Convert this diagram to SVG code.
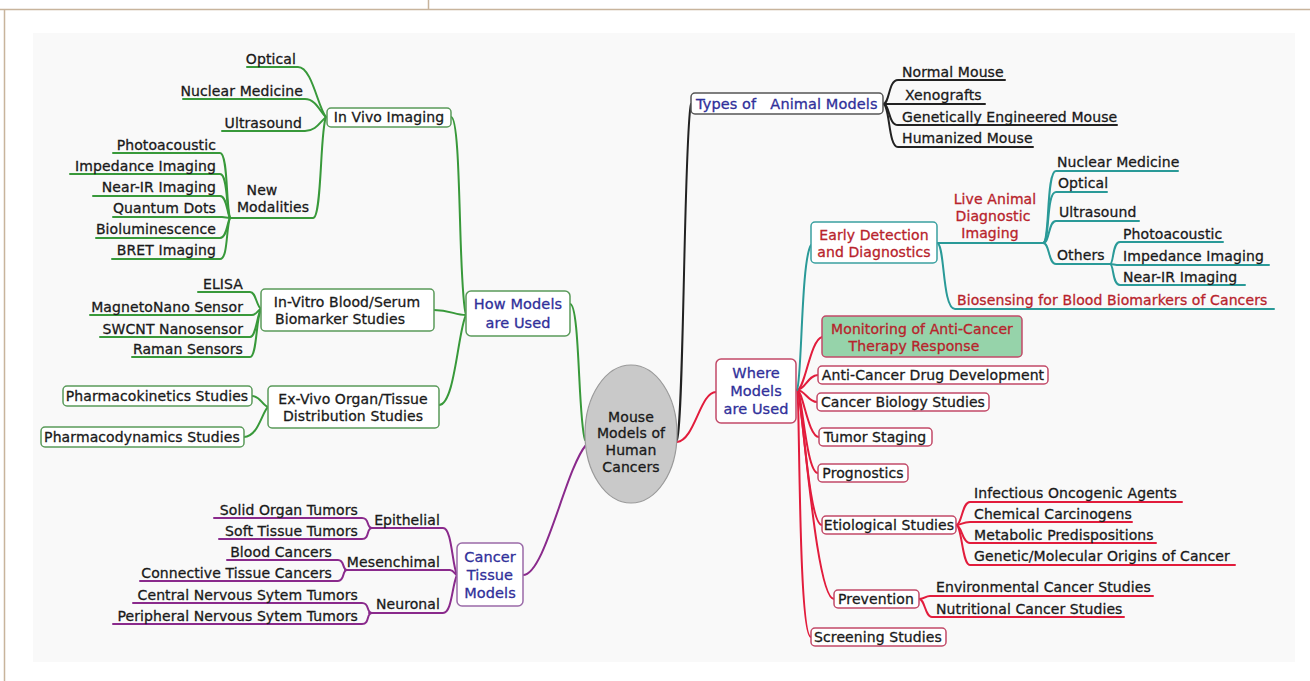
<svg xmlns="http://www.w3.org/2000/svg" width="1310" height="681" viewBox="0 0 1310 681">
<defs>
<style>
text{font-family:"DejaVu Sans","Liberation Sans",sans-serif;font-size:14px;letter-spacing:0.1px;fill:#1a1a1a;stroke:#1a1a1a;stroke-width:0.3px}
.e{text-anchor:end}
.m{text-anchor:middle}
.blue{fill:#30309a;stroke:#30309a;font-size:14.5px}
.red{fill:#b8232c;stroke:#b8232c}
.c{fill:none;stroke-width:2;stroke-linecap:round;stroke-linejoin:round}
.g{stroke:#38993a}
.p{stroke:#8a2a8c}
.k{stroke:#222}
.r{stroke:#e21c3c}
.t{stroke:#2a9a98}
.bx{fill:#fff;stroke-width:1.5}
.bg{stroke:#5a9a5a}
.bp{stroke:#9a6aa8}
.bk{stroke:#555}
.br{stroke:#c24a68}
.bt{stroke:#3aa0a0}
</style>
</defs>
<rect width="1310" height="681" fill="#fff"/>
<path d="M0,9.5H1310M4.5,9.5V681M428.5,0V9.5" stroke="#c8b49c" stroke-width="1.5" fill="none"/>
<rect x="33" y="33" width="1262" height="629" fill="#f9f9f9"/>

<g id="connectors">
<path class="c g" d="M247,67H298C312,67 318,108 326,117"/>
<path class="c g" d="M183,99H305C316,99 320,112 326,117"/>
<path class="c g" d="M222,131H305C316,131 320,122 326,117"/>
<path class="c g" d="M230,218H313C322,218 320,130 326,117"/>
<path class="c g" d="M113,153H220C228,153 226,205 230,218"/>
<path class="c g" d="M70,174H220C228,174 226,210 230,218"/>
<path class="c g" d="M93,196H220C227,196 227,214 230,218"/>
<path class="c g" d="M113,217H222L230,218"/>
<path class="c g" d="M96,238H220C227,238 227,222 230,218"/>
<path class="c g" d="M112,259H220C228,259 226,228 230,218"/>
<path class="c g" d="M451,117C462,117 458,290 466,315"/>
<path class="c g" d="M198,292H250C256,292 256,305 261,309"/>
<path class="c g" d="M90,315H252C256,315 257,311 261,309"/>
<path class="c g" d="M100,337H250C256,337 257,315 261,309"/>
<path class="c g" d="M132,357H250C257,357 256,318 261,309"/>
<path class="c g" d="M434,310C450,310 455,315 466,315"/>
<path class="c g" d="M439,405C455,405 458,330 466,315"/>
<path class="c g" d="M252,396C260,396 262,405 268,407"/>
<path class="c g" d="M244,437C258,437 262,412 268,407"/>
<path class="c g" d="M570,304C580,304 578,420 585,440"/>
<path class="c p" d="M523,575C545,575 565,470 586,445"/>
<path class="c p" d="M371,528H443C452,528 452,565 457,575"/>
<path class="c p" d="M214,518H362C370,518 366,528 372,528"/>
<path class="c p" d="M219,539H362C370,539 366,528 372,528"/>
<path class="c p" d="M345,570H450C454,570 455,575 457,575"/>
<path class="c p" d="M227,560H338C345,560 342,570 347,570"/>
<path class="c p" d="M140,581H338C345,581 342,570 347,570"/>
<path class="c p" d="M369,613H443C452,613 452,585 457,575"/>
<path class="c p" d="M133,603H362C370,603 366,613 372,613"/>
<path class="c p" d="M113,624H362C370,624 366,613 372,613"/>
<path class="c k" d="M677,440C684,420 684,130 691,104"/>
<path class="c k" d="M883,104C890,104 888,80 898,80H1005"/>
<path class="c k" d="M883,104H985"/>
<path class="c k" d="M883,104C890,104 888,125 898,125H1117"/>
<path class="c k" d="M883,104C890,104 888,147 898,147H1033"/>
<path class="c r" d="M677,442C695,440 700,392 716,392"/>
<path class="c r" d="M797,390C805,390 810,340 822,337"/>
<path class="c r" d="M797,390C805,390 808,375 818,375"/>
<path class="c r" d="M797,390C805,390 808,402 817,402"/>
<path class="c r" d="M797,390C803,390 808,437 819,437"/>
<path class="c r" d="M797,390C802,390 806,473 818,473"/>
<path class="c r" d="M797,390C802,390 808,525 822,525"/>
<path class="c r" d="M797,390C802,390 815,599 834,599"/>
<path class="c r" d="M797,390C800,390 798,637 811,637"/>
<path class="c r" d="M956,525C962,525 962,502 970,502H1182"/>
<path class="c r" d="M956,525C962,525 962,522 970,522H1132"/>
<path class="c r" d="M956,525C962,525 962,543 970,543H1156"/>
<path class="c r" d="M956,525C962,525 962,565 970,565H1235"/>
<path class="c r" d="M919,599C925,599 925,596 930,596H1153"/>
<path class="c r" d="M919,599C925,599 925,617 932,617H1124"/>
<path class="c t" d="M797,390C802,380 801,260 811,245"/>
<path class="c t" d="M937,243H1043"/>
<path class="c t" d="M1043,243C1050,243 1046,171 1056,171H1178"/>
<path class="c t" d="M1043,243C1050,243 1046,192 1056,192H1107"/>
<path class="c t" d="M1043,243C1050,243 1048,221 1056,221H1139"/>
<path class="c t" d="M1043,243C1050,243 1048,264 1056,264H1110"/>
<path class="c t" d="M1110,264C1114,264 1112,242 1120,242H1223"/>
<path class="c t" d="M1110,264C1114,264 1114,265 1120,265H1269"/>
<path class="c t" d="M1110,264C1114,264 1112,285 1120,285H1245"/>
<path class="c t" d="M937,243C945,243 942,309 955,309H1274"/>
</g>

<g id="center"><ellipse cx="631" cy="434" rx="46" ry="69" fill="#c9c9c9" stroke="#9a9a9a" stroke-width="1.2"/>
<text class="m" x="631" y="422">Mouse</text>
<text class="m" x="631" y="438">Models of</text>
<text class="m" x="631" y="455">Human</text>
<text class="m" x="631" y="472">Cancers</text></g>

<g id="how-models"><rect class="bx bg" x="466" y="291" width="104" height="45" rx="5"/><text class="m blue" x="518" y="309">How Models</text><text class="m blue" x="518" y="328">are Used</text></g>
<g id="in-vivo"><rect class="bx bg" x="327" y="108" width="124" height="19" rx="4"/><text class="m" x="389" y="122">In Vivo Imaging</text></g>
<g id="optical-l"><text class="e" x="296" y="64">Optical</text></g>
<g id="nuclear-l"><text class="e" x="303" y="96">Nuclear Medicine</text></g>
<g id="ultrasound-l"><text class="e" x="302" y="128">Ultrasound</text></g>
<g id="new-modalities"><text class="m" x="262" y="195">New</text><text class="m" x="273" y="212">Modalities</text></g>
<g id="photo-l"><text class="e" x="216" y="150">Photoacoustic</text></g>
<g id="impedance-l"><text class="e" x="216" y="171">Impedance Imaging</text></g>
<g id="nearir-l"><text class="e" x="216" y="192">Near-IR Imaging</text></g>
<g id="quantum"><text class="e" x="216" y="213">Quantum Dots</text></g>
<g id="biolum"><text class="e" x="216" y="234">Bioluminescence</text></g>
<g id="bret"><text class="e" x="216" y="255">BRET Imaging</text></g>
<g id="in-vitro"><rect class="bx bg" x="261" y="289" width="173" height="42" rx="4"/><text class="m" x="347" y="307">In-Vitro Blood/Serum</text><text class="m" x="340" y="324">Biomarker Studies</text></g>
<g id="elisa"><text class="e" x="243" y="289">ELISA</text></g>
<g id="magneto"><text class="e" x="243" y="312">MagnetoNano Sensor</text></g>
<g id="swcnt"><text class="e" x="243" y="334">SWCNT Nanosensor</text></g>
<g id="raman"><text class="e" x="243" y="354">Raman Sensors</text></g>
<g id="ex-vivo"><rect class="bx bg" x="268" y="386" width="171" height="42" rx="4"/><text class="m" x="353" y="404">Ex-Vivo Organ/Tissue</text><text class="m" x="353" y="421">Distribution Studies</text></g>
<g id="pk"><rect class="bx bg" x="63" y="386" width="189" height="20" rx="4"/><text class="m" x="157" y="401">Pharmacokinetics Studies</text></g>
<g id="pd"><rect class="bx bg" x="41" y="427" width="203" height="20" rx="4"/><text class="m" x="142" y="442">Pharmacodynamics Studies</text></g>

<g id="cancer-tissue"><rect class="bx bp" x="457" y="543" width="66" height="63" rx="5"/><text class="m blue" x="490" y="562">Cancer</text><text class="m blue" x="490" y="580">Tissue</text><text class="m blue" x="490" y="598">Models</text></g>
<g id="epithelial"><text class="e" x="440" y="525">Epithelial</text></g>
<g id="mesenchimal"><text class="e" x="440" y="567">Mesenchimal</text></g>
<g id="neuronal"><text class="e" x="440" y="609">Neuronal</text></g>
<g id="solid"><text class="e" x="358" y="515">Solid Organ Tumors</text></g>
<g id="soft"><text class="e" x="358" y="536">Soft Tissue Tumors</text></g>
<g id="blood"><text class="e" x="332" y="557">Blood Cancers</text></g>
<g id="connective"><text class="e" x="332" y="578">Connective Tissue Cancers</text></g>
<g id="central"><text class="e" x="358" y="600">Central Nervous Sytem Tumors</text></g>
<g id="peripheral"><text class="e" x="358" y="621">Peripheral Nervous Sytem Tumors</text></g>

<g id="types"><rect class="bx bk" x="691" y="93" width="192" height="21" rx="4"/><text class="blue" x="696" y="109" style="white-space:pre">Types of   Animal Models</text></g>
<g id="normal"><text x="902" y="77">Normal Mouse</text></g>
<g id="xeno"><text x="905" y="100">Xenografts</text></g>
<g id="gem"><text x="902" y="122">Genetically Engineered Mouse</text></g>
<g id="humanized"><text x="902" y="143">Humanized Mouse</text></g>

<g id="where"><rect class="bx br" x="716" y="359" width="80" height="64" rx="5"/><text class="m blue" x="756" y="378">Where</text><text class="m blue" x="756" y="396">Models</text><text class="m blue" x="756" y="414">are Used</text></g>
<g id="early"><rect class="bx bt" x="811" y="222" width="126" height="41" rx="4"/><text class="m red" x="874" y="240">Early Detection</text><text class="m red" x="874" y="257">and Diagnostics</text></g>
<g id="live"><text class="m red" x="995" y="204">Live Animal</text><text class="m red" x="993" y="221">Diagnostic</text><text class="m red" x="990" y="238">Imaging</text></g>
<g id="nuclear-r"><text x="1057" y="167">Nuclear Medicine</text></g>
<g id="optical-r"><text x="1058" y="188">Optical</text></g>
<g id="ultrasound-r"><text x="1059" y="217">Ultrasound</text></g>
<g id="others"><text x="1057" y="260">Others</text></g>
<g id="photo-r"><text x="1123" y="239">Photoacoustic</text></g>
<g id="impedance-r"><text x="1123" y="261">Impedance Imaging</text></g>
<g id="nearir-r"><text x="1123" y="282">Near-IR Imaging</text></g>
<g id="biosensing"><text class="red" x="957" y="305">Biosensing for Blood Biomarkers of Cancers</text></g>
<g id="monitoring"><rect x="822" y="316" width="200" height="41" rx="4" fill="#96d3aa" stroke="#c24a68" stroke-width="1.5"/><text class="m red" x="922" y="334">Monitoring of Anti-Cancer</text><text class="m red" x="914" y="351">Therapy Response</text></g>
<g id="drug"><rect class="bx br" x="818" y="366" width="230" height="18" rx="4"/><text class="m" x="933" y="380">Anti-Cancer Drug Development</text></g>
<g id="biology"><rect class="bx br" x="817" y="393" width="172" height="18" rx="4"/><text class="m" x="903" y="407">Cancer Biology Studies</text></g>
<g id="staging"><rect class="bx br" x="819" y="428" width="113" height="18" rx="4"/><text class="m" x="875" y="442">Tumor Staging</text></g>
<g id="prognostics"><rect class="bx br" x="818" y="464" width="90" height="18" rx="4"/><text class="m" x="863" y="478">Prognostics</text></g>
<g id="etiological"><rect class="bx br" x="822" y="516" width="134" height="18" rx="4"/><text class="m" x="889" y="530">Etiological Studies</text></g>
<g id="infectious"><text x="974" y="498">Infectious Oncogenic Agents</text></g>
<g id="chemical"><text x="974" y="519">Chemical Carcinogens</text></g>
<g id="metabolic"><text x="974" y="540">Metabolic Predispositions</text></g>
<g id="genetic"><text x="974" y="561">Genetic/Molecular Origins of Cancer</text></g>
<g id="prevention"><rect class="bx br" x="834" y="590" width="85" height="18" rx="4"/><text class="m" x="876" y="604">Prevention</text></g>
<g id="environmental"><text x="936" y="592">Environmental Cancer Studies</text></g>
<g id="nutritional"><text x="936" y="614">Nutritional Cancer Studies</text></g>
<g id="screening"><rect class="bx br" x="811" y="628" width="135" height="18" rx="4"/><text class="m" x="878" y="642">Screening Studies</text></g>
</svg>
